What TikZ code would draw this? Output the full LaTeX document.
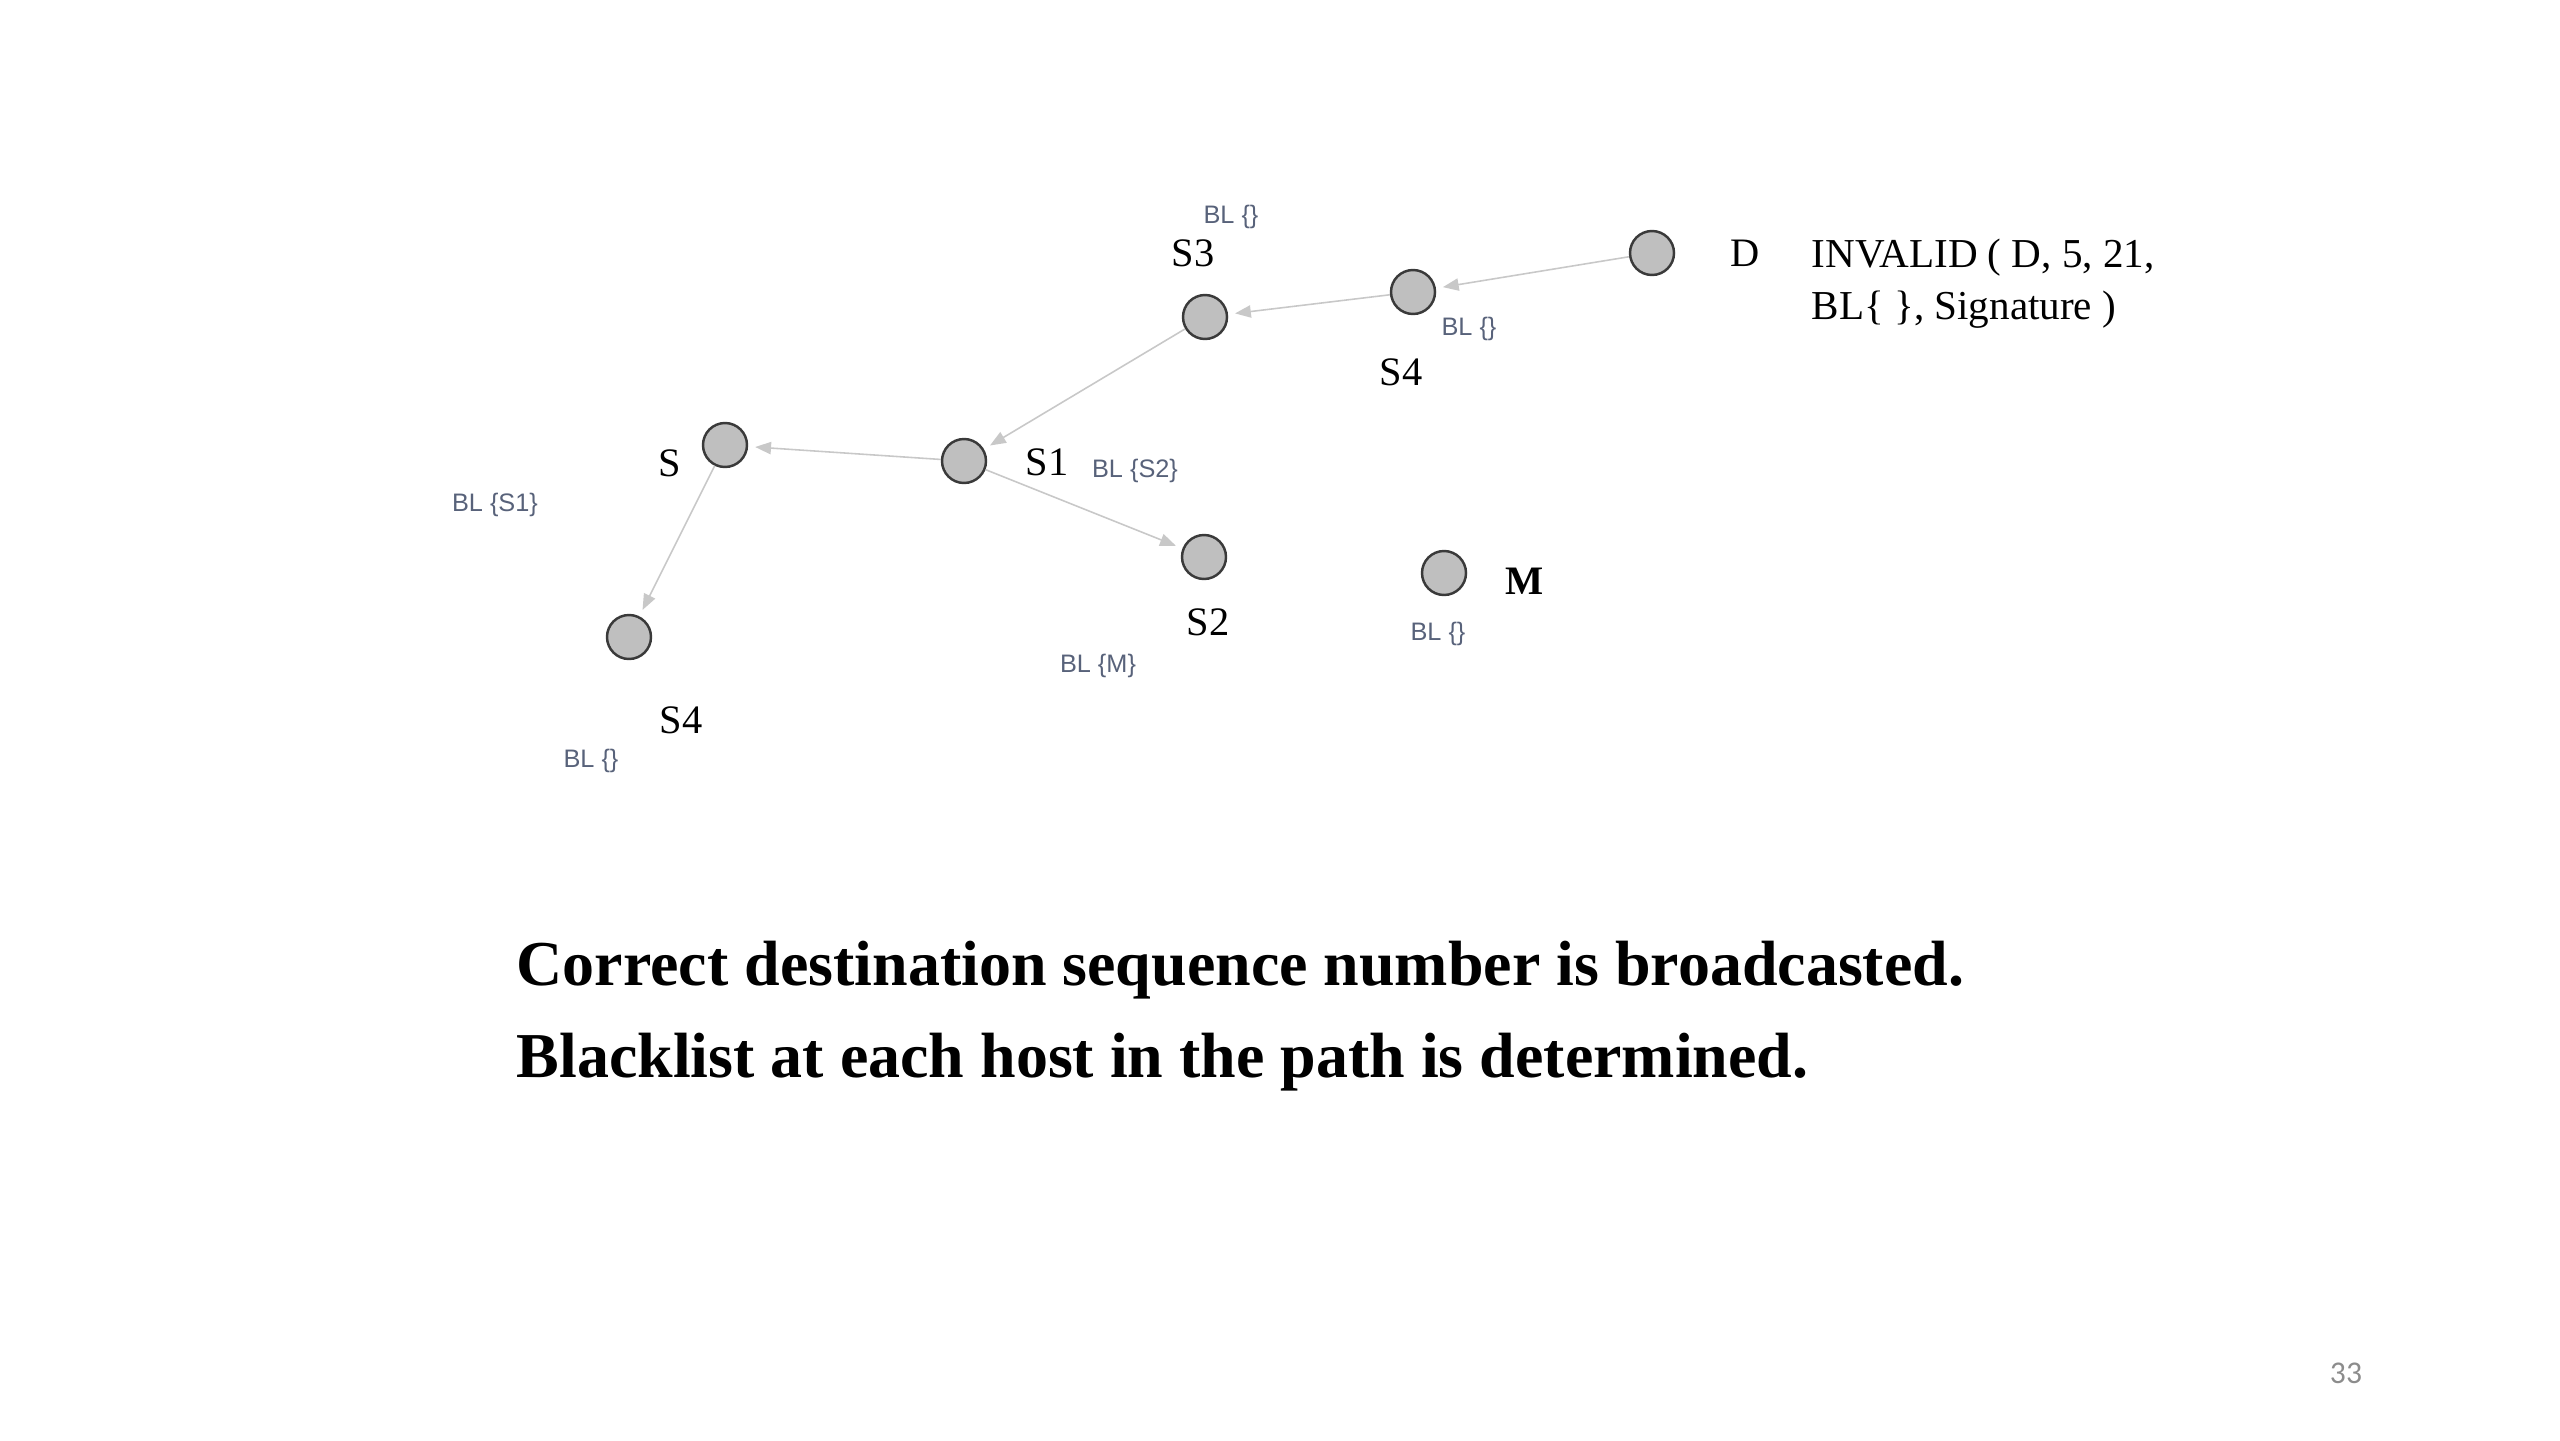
\documentclass[tikz,border=0pt]{standalone}
\usepackage{fontspec}
\setmainfont{Liberation Serif}
\newfontfamily\blfont{Liberation Sans}
\newfontfamily\pagefont{Carlito}
\usetikzlibrary{arrows.meta}
\definecolor{hostfill}{RGB}{191,191,191}
\definecolor{hostline}{RGB}{58,58,58}
\definecolor{linkgray}{RGB}{200,200,200}
\definecolor{blcolor}{RGB}{88,98,122}
\definecolor{pagegray}{RGB}{140,140,140}

\tikzset{
	host/.style={circle,draw=hostline,fill=hostfill,line width=0.7pt,minimum size=0.44cm,inner sep=0pt},
	hostname/.style={inner sep=0pt,font=\fontsize{11.5}{14}\selectfont},
	bl/.style={inner sep=0pt,text=blcolor,font=\blfont\fontsize{7.2}{8}\selectfont},
	link/.style={draw=linkgray,line width=0.45pt,-{Triangle[length=4.5pt,width=3.5pt]},shorten >=2pt},
	caption/.style={anchor=base west,inner sep=0pt,font=\bfseries\fontsize{18.2}{24}\selectfont}
}

\begin{document}
\begin{tikzpicture}
	\useasboundingbox (0,0) rectangle (25.6,-14.4);
	
	% hosts
	\node[host] (D)   at (16.52,-2.53) {};
	\node[host] (S4a) at (14.13,-2.92) {};
	\node[host] (S3)  at (12.05,-3.17) {};
	\node[host] (S1)  at (9.64,-4.61) {};
	\node[host] (S)   at (7.25,-4.45) {};
	\node[host] (S4b) at (6.29,-6.37) {};
	\node[host] (S2)  at (12.04,-5.57) {};
	\node[host] (M)   at (14.44,-5.73) {};
	
	% host names
	\node[hostname] (lD)   at (17.45,-2.53) {D};
	\node[hostname] (lS4a) at (14.01,-3.72) {S4};
	\node[hostname] (lS3)  at (11.93,-2.53) {S3};
	\node[hostname] (lS1)  at (10.47,-4.62) {S1};
	\node[hostname] (lS)   at (6.70,-4.63) {S};
	\node[hostname] (lS4b) at (6.81,-7.20) {S4};
	\node[hostname] (lS2)  at (12.08,-6.22) {S2};
	\node[hostname,font=\bfseries\fontsize{11.5}{14}\selectfont] (lM) at (15.25,-5.81) {M};
	
	% message
	\node[hostname,anchor=west,align=left,font=\fontsize{11.7}{14.8}\selectfont] (msg) at (18.11,-2.84)
		{INVALID ( D, 5, 21,\\BL\{ \}, Signature )};
	
	% blacklists
	\node[bl] (blS3)  at (12.31,-2.17) {BL \{\}};
	\node[bl] (blS4a) at (14.69,-3.29) {BL \{\}};
	\node[bl] (blS1)  at (11.35,-4.71) {BL \{S2\}};
	\node[bl] (blS)   at (4.95,-5.05) {BL \{S1\}};
	\node[bl] (blS2)  at (10.98,-6.66) {BL \{M\}};
	\node[bl] (blM)   at (14.38,-6.34) {BL \{\}};
	\node[bl] (blS4b) at (5.91,-7.61) {BL \{\}};
	
	% route
	\draw[link] (D) -- (S4a);
	\draw[link] (S4a) -- (S3);
	\draw[link] (S3) -- (S1);
	\draw[link] (S1) -- (S);
	\draw[link] (S) -- (S4b);
	\draw[link] (S1) -- (S2);
	
	% caption
	\node[caption] (cap1) at (5.16,-9.85) {Correct destination sequence number is broadcasted.};
	\node[caption] (cap2) at (5.16,-10.77) {Blacklist at each host in the path is determined.};
	
	\node[inner sep=0pt,text=pagegray,font=\pagefont\fontsize{9}{10}\selectfont] (page) at (23.46,-13.73) {33};
\end{tikzpicture}
\end{document}
